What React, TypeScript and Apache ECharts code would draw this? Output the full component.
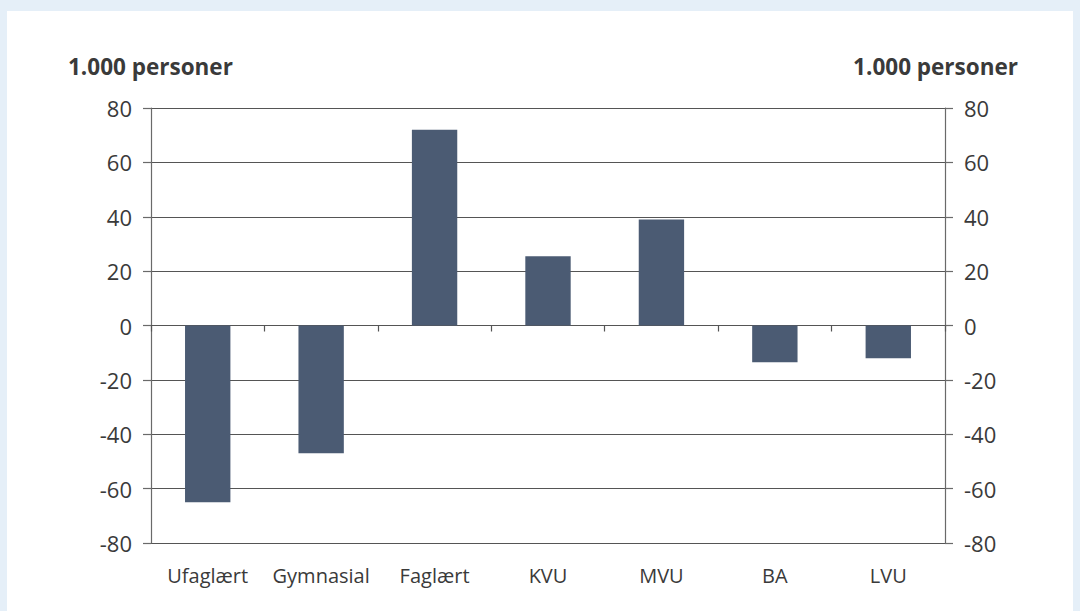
import React, { useEffect, useRef } from "react";
import * as echarts from "echarts";

const categories = ["Ufaglært", "Gymnasial", "Faglært", "KVU", "MVU", "BA", "LVU"];
const values = [-65, -47, 72, 25.5, 39, -13.5, -12];
const axisTitle = "1.000 personer";
const yMin = -80;
const yMax = 80;
const yStep = 20;

export default function App() {
  const ref = useRef<HTMLDivElement>(null);
  useEffect(() => {
    const chart = echarts.init(ref.current!, undefined, { renderer: "svg" });
    const font = "'Open Sans', 'Noto Sans', sans-serif";
    const textColor = "#3a3a3a";
    const yAxisCommon = {
      type: "value" as const,
      min: yMin,
      max: yMax,
      interval: yStep,
      axisLine: { show: true, lineStyle: { color: "#6a6a6a", width: 1.2 } },
      axisTick: { show: true, length: 8, lineStyle: { color: "#6a6a6a", width: 1.2 } },
      axisLabel: { color: textColor, fontSize: 22, fontFamily: font, margin: 19 },
    };
    chart.setOption({
      animation: false,
      backgroundColor: "#e5eff8",
      graphic: [
        {
          type: "rect",
          z: -10,
          shape: { x: 7, y: 11, width: 1066, height: 600 },
          style: { fill: "#ffffff" },
        },
        {
          type: "text",
          left: 68,
          top: 55,
          style: { text: axisTitle, fontSize: 22.5, fontWeight: "bold", fontFamily: font, fill: textColor },
        },
        {
          type: "text",
          right: 62,
          top: 55,
          style: { text: axisTitle, fontSize: 22.5, fontWeight: "bold", fontFamily: font, fill: textColor },
        },
      ],
      grid: { left: 151, right: 135, top: 108, bottom: 68 },
      xAxis: [
        {
          type: "category",
          data: categories,
          position: "bottom",
          axisLine: { show: false, onZero: false },
          axisTick: { show: false },
          axisLabel: { color: textColor, fontSize: 20, fontFamily: font, margin: 22, interval: 0, hideOverlap: false },
        },
        {
          type: "category",
          data: categories,
          position: "bottom",
          axisLine: { show: true, onZero: true, onZeroAxisIndex: 0, lineStyle: { color: "#555", width: 1.2 } },
          axisTick: { show: true, length: 6, lineStyle: { color: "#555", width: 1.2 } },
          axisLabel: { show: false },
        },
      ],
      yAxis: [
        {
          ...yAxisCommon,
          position: "left",
          splitLine: { show: true, lineStyle: { color: "#555", width: 1.2 } },
        },
        {
          ...yAxisCommon,
          position: "right",
          splitLine: { show: false },
        },
      ],
      series: [
        {
          type: "bar",
          data: values,
          xAxisIndex: 0,
          yAxisIndex: 0,
          barWidth: "40%",
          itemStyle: { color: "#4b5b73" },
        },
      ],
    });
    return () => chart.dispose();
  }, []);
  return (
    <div
      ref={ref}
      style={{ position: "fixed", left: 0, top: 0, width: 1080, height: 611 }}
    />
  );
}
